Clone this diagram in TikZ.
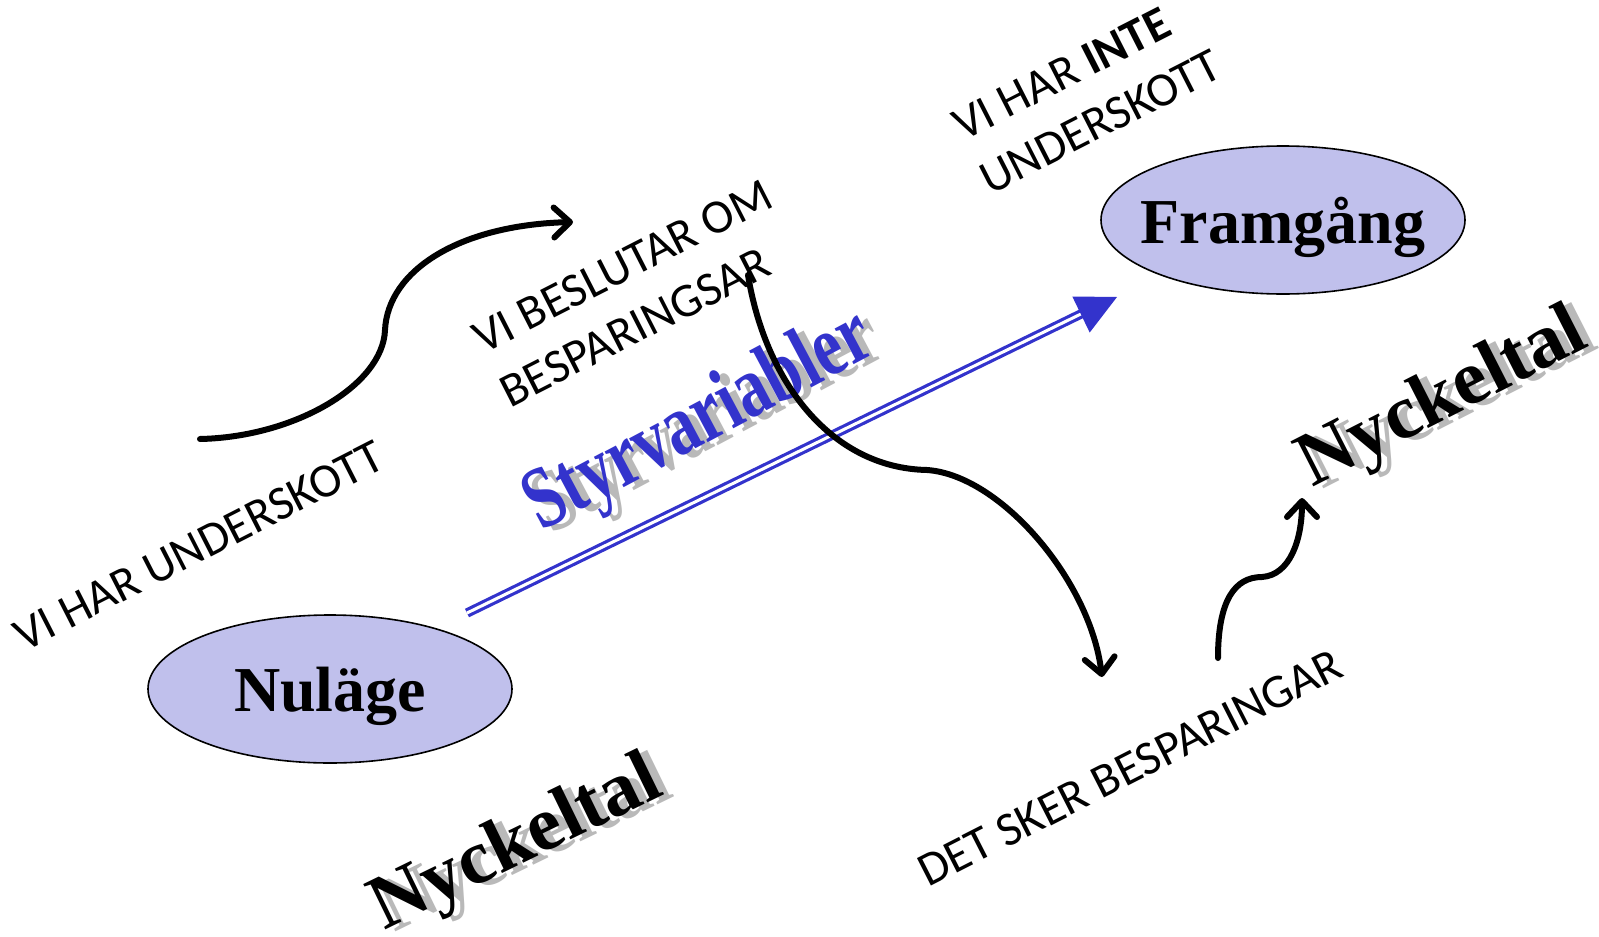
\documentclass[tikz,border=0pt]{standalone}
\usepackage{fontspec}
\setmainfont{Carlito}
\newfontfamily\tnr{Liberation Serif}
\usetikzlibrary{shapes.geometric,arrows.meta,calc}
\definecolor{ovalfill}{RGB}{192,192,236}
\definecolor{ctrlblue}{RGB}{51,51,204}
\definecolor{shadowgray}{RGB}{185,185,185}
\begin{document}
\begin{tikzpicture}[x=1pt,y=-1pt,
  oval/.style={ellipse, draw=black, line width=1.6pt, fill=ovalfill, minimum width=364pt, minimum height=148pt, inner sep=0pt},
  ovaltext/.style={font=\tnr\bfseries\fontsize{64}{70}\selectfont, inner sep=0pt, anchor=base},
  caption/.style={font=\fontsize{48}{60}\selectfont, align=left, rotate=27, inner sep=0pt},
  keyfig/.style={font=\tnr\bfseries\fontsize{77}{80}\selectfont, inner sep=0pt},
  flow/.style={line width=6pt, line cap=round, line join=round, -{Straight Barb[length=16pt,width=30pt,round]}},
  ctrlline/.style={draw=ctrlblue, double=white, line width=3.2pt, double distance=3pt}
]
\useasboundingbox (0,0) rectangle (1599,937);
\fill[white] (0,0) rectangle (1599,937);

% ovals
\node[oval] (nulage) at (330,689) {};
\node[ovaltext] (nulaget) at (330,711) {Nuläge};
\node[oval] (framgang) at (1283,220) {};
\node[ovaltext] (framgangt) at (1283,243) {Framgång};

% control arrow
\coordinate (cs) at (467,613);
\coordinate (ce) at (1085,312);
\draw[ctrlline] (cs) -- (ce);
\fill[ctrlblue] (1117,297) -- (1072.3,296.5) -- (1089.7,332.5) -- cycle;

% Styrvariabler
\node[keyfig, text=shadowgray, rotate=28, font=\tnr\bfseries\fontsize{88}{90}\selectfont] (styrs) at (710,426) {\scalebox{0.75}[1]{Styrvariabler}};
\node[keyfig, text=ctrlblue, rotate=28, font=\tnr\bfseries\fontsize{88}{90}\selectfont] (styr) at (700,423) {\scalebox{0.75}[1]{Styrvariabler}};

% Nyckeltal
\node[keyfig, text=shadowgray, rotate=26] (nyck1s) at (527,848) {Nyckeltal};
\node[keyfig, rotate=26] (nyck1) at (517,846) {Nyckeltal};
\node[keyfig, text=shadowgray, rotate=27] (nyck2s) at (1453,402) {Nyckeltal};
\node[keyfig, rotate=27] (nyck2) at (1443,400) {Nyckeltal};

% captions
\node[caption] (t1) at (199,546) {VI HAR UNDERSKOTT};
\node[caption] (t2) at (636,293) {VI BESLUTAR OM\\BESPARINGSAR};
\node[caption] (t3) at (1087,95) {VI HAR \textbf{INTE}\\UNDERSKOTT};
\node[caption] (t4) at (1130,768) {DET SKER BESPARINGAR};

% black flow arrows
\coordinate (a1) at (200,439);
\coordinate (a2) at (573,222);
\draw[flow] (a1) .. controls (295,437) and (383,385) .. (385,330) .. controls (388,270) and (460,225) .. (a2);
\coordinate (b1) at (748,275);
\coordinate (b2) at (1102,677);
\draw[flow] (b1) .. controls (765,380) and (830,468) .. (927,470) .. controls (1000,475) and (1090,580) .. (b2);
\coordinate (c1) at (1218,658);
\coordinate (c2) at (1302,498);
\draw[flow] (c1) .. controls (1218,600) and (1235,577) .. (1262,577) .. controls (1290,575) and (1302,540) .. (c2);
\end{tikzpicture}
\end{document}
